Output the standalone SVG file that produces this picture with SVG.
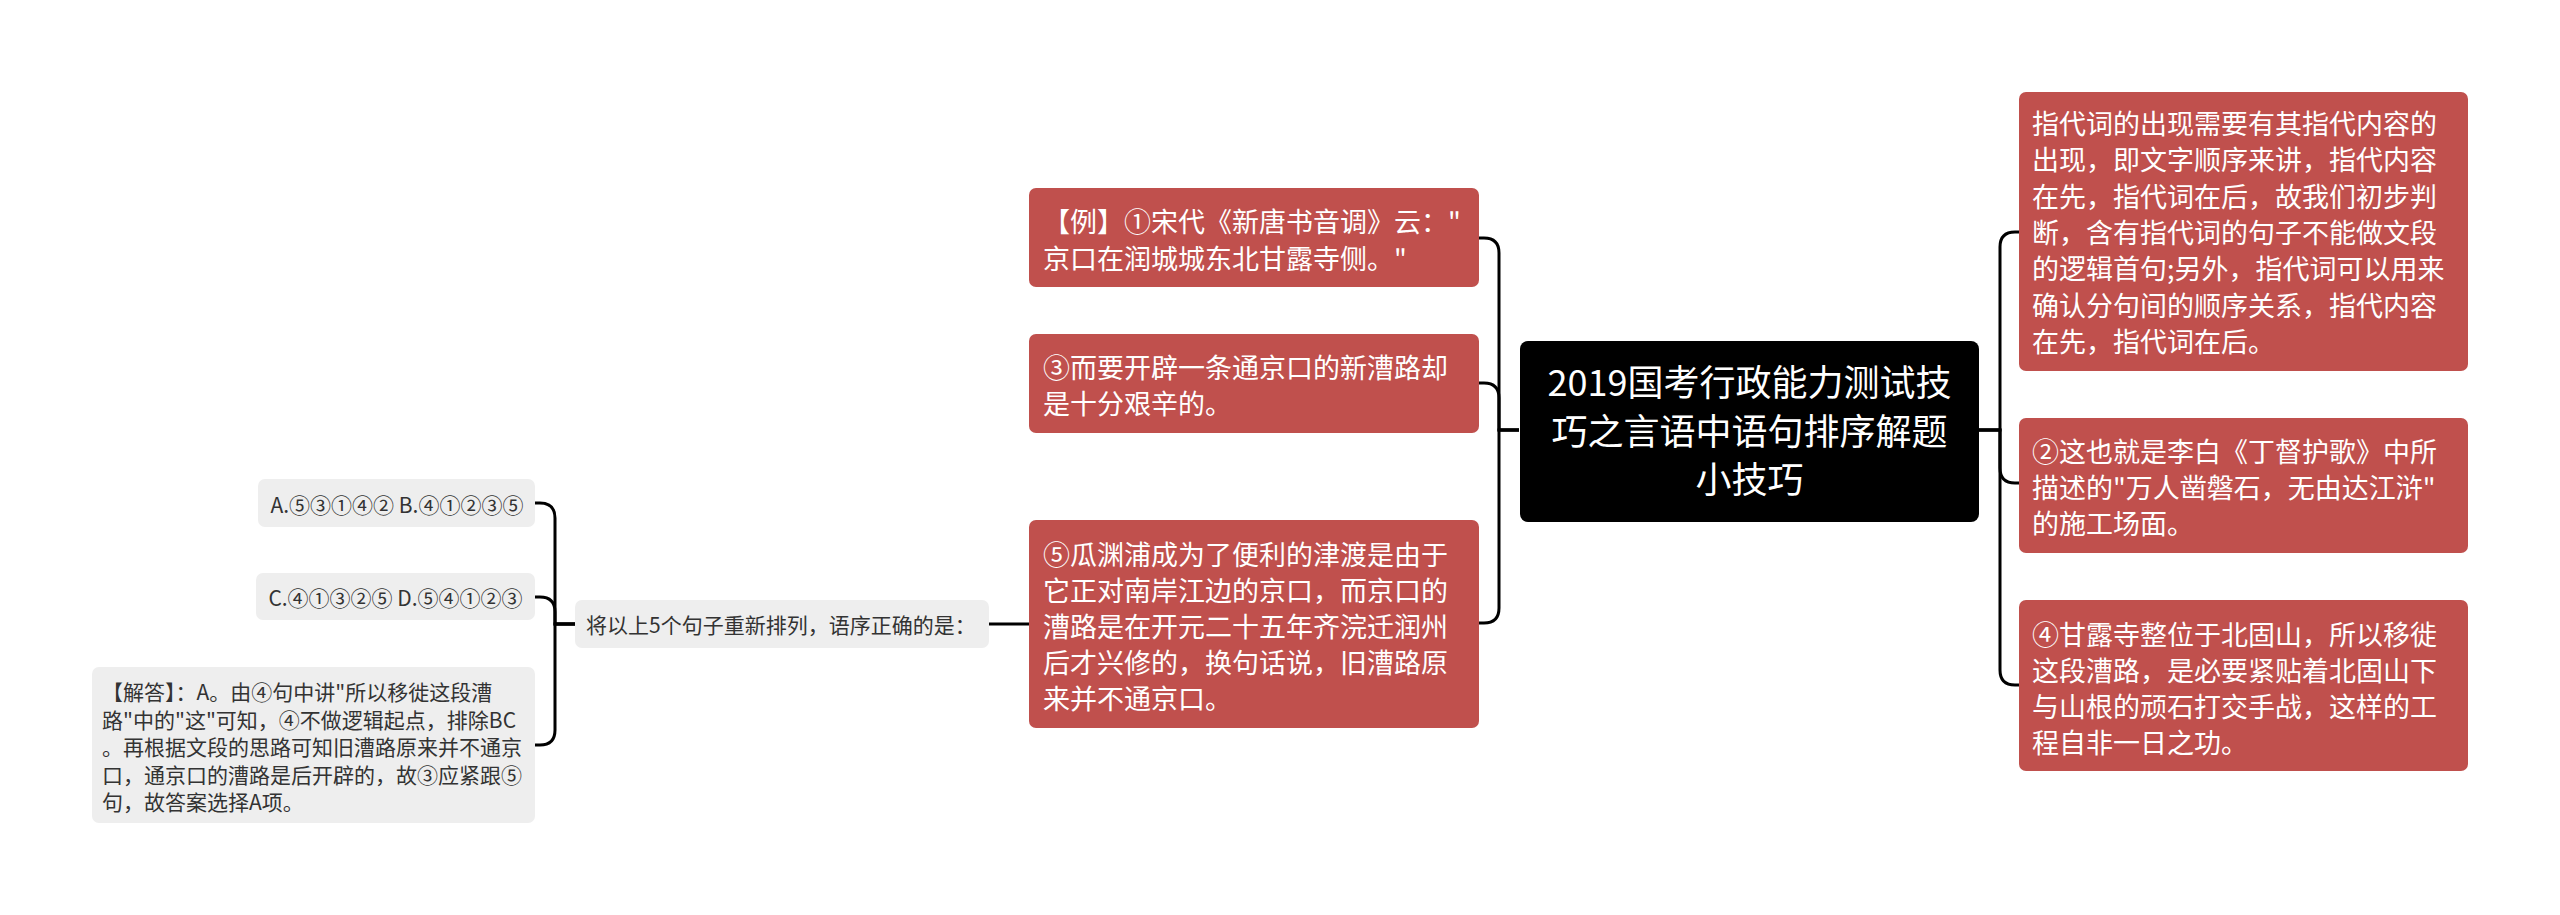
<svg xmlns="http://www.w3.org/2000/svg" width="2560" height="915" viewBox="0 0 2560 915">
<style>
text{font-family:"Noto Sans CJK SC","Noto Sans",sans-serif;}
.red{fill:#C0504D;}
.gray{fill:#EEEEEE;}
.center{fill:#000000;}
.tr{font-size:27px;fill:#FFFFFF;}
.tc{font-size:36px;fill:#FFFFFF;text-anchor:middle;}
.tg{font-size:21px;fill:#333333;}
.tgm{font-size:21px;fill:#333333;text-anchor:middle;}
.link{fill:none;stroke:#000000;stroke-width:3;}
</style>
<rect x="0" y="0" width="2560" height="915" fill="#FFFFFF"/>
<g id="connectors">
<path class="link" d="M1519,430 H1499 V253 Q1499,238 1484,238 H1479"/>
<path class="link" d="M1519,430 H1499 V398 Q1499,383 1484,383 H1479"/>
<path class="link" d="M1519,430 H1499 V608 Q1499,623 1484,623 H1479"/>
<path class="link" d="M1978,430 H2000 V247 Q2000,232 2015,232 H2019"/>
<path class="link" d="M1978,430 H2000 V468 Q2000,483 2015,483 H2019"/>
<path class="link" d="M1978,430 H2000 V670 Q2000,685 2015,685 H2019"/>
<path class="link" d="M1029,624 H989"/>
<path class="link" d="M575,624 H555 V518 Q555,503 540,503 H535"/>
<path class="link" d="M575,624 H555 V612 Q555,597 540,597 H535"/>
<path class="link" d="M575,624 H555 V730 Q555,745 540,745 H535"/>
</g>
<g id="root">
<rect class="center" x="1520" y="341" width="459" height="181" rx="8"/>
<text class="tc" x="1749.5" y="396">2019国考行政能力测试技</text>
<text class="tc" x="1749.5" y="445">巧之言语中语句排序解题</text>
<text class="tc" x="1749.5" y="493">小技巧</text>
</g>
<g id="node-example1">
<rect class="red" x="1029" y="188" width="450" height="99" rx="7"/>
<text class="tr" x="1043" y="232">【例】①宋代《新唐书音调》云："</text>
<text class="tr" x="1043" y="268.5">京口在润城城东北甘露寺侧。"</text>
</g>
<g id="node-example3">
<rect class="red" x="1029" y="334" width="450" height="99" rx="7"/>
<text class="tr" x="1043" y="378">③而要开辟一条通京口的新漕路却</text>
<text class="tr" x="1043" y="414">是十分艰辛的。</text>
</g>
<g id="node-example5">
<rect class="red" x="1029" y="520" width="450" height="208" rx="7"/>
<text class="tr" x="1043" y="565">⑤瓜渊浦成为了便利的津渡是由于</text>
<text class="tr" x="1043" y="601">它正对南岸江边的京口，而京口的</text>
<text class="tr" x="1043" y="637">漕路是在开元二十五年齐浣迁润州</text>
<text class="tr" x="1043" y="673">后才兴修的，换句话说，旧漕路原</text>
<text class="tr" x="1043" y="709">来并不通京口。</text>
</g>
<g id="node-question">
<rect class="gray" x="575" y="600" width="414" height="48" rx="7"/>
<text class="tg" x="586" y="633">将以上5个句子重新排列，语序正确的是：</text>
</g>
<g id="node-optionsAB">
<rect class="gray" x="258" y="479" width="277" height="48" rx="7"/>
<text class="tgm" x="397" y="513">A.⑤③①④② B.④①②③⑤</text>
</g>
<g id="node-optionsCD">
<rect class="gray" x="256" y="573" width="279" height="47" rx="7"/>
<text class="tgm" x="395.5" y="606">C.④①③②⑤ D.⑤④①②③</text>
</g>
<g id="node-answer">
<rect class="gray" x="92" y="667" width="443" height="156" rx="7"/>
<text class="tg" x="102" y="700">【解答】：A。由④句中讲"所以移徙这段漕</text>
<text class="tg" x="102" y="727.5">路"中的"这"可知，④不做逻辑起点，排除BC</text>
<text class="tg" x="102" y="755">。再根据文段的思路可知旧漕路原来并不通京</text>
<text class="tg" x="102" y="782.5">口，通京口的漕路是后开辟的，故③应紧跟⑤</text>
<text class="tg" x="102" y="810">句，故答案选择A项。</text>
</g>
<g id="node-pronoun">
<rect class="red" x="2019" y="92" width="449" height="279" rx="7"/>
<text class="tr" x="2032" y="134">指代词的出现需要有其指代内容的</text>
<text class="tr" x="2032" y="170.3">出现，即文字顺序来讲，指代内容</text>
<text class="tr" x="2032" y="206.6">在先，指代词在后，故我们初步判</text>
<text class="tr" x="2032" y="242.9">断，含有指代词的句子不能做文段</text>
<text class="tr" x="2032" y="279.2">的逻辑首句;另外，指代词可以用来</text>
<text class="tr" x="2032" y="315.5">确认分句间的顺序关系，指代内容</text>
<text class="tr" x="2032" y="351.8">在先，指代词在后。</text>
</g>
<g id="node-example2">
<rect class="red" x="2019" y="418" width="449" height="135" rx="7"/>
<text class="tr" x="2032" y="462">②这也就是李白《丁督护歌》中所</text>
<text class="tr" x="2032" y="498">描述的"万人凿磐石，无由达江浒"</text>
<text class="tr" x="2032" y="534">的施工场面。</text>
</g>
<g id="node-example4">
<rect class="red" x="2019" y="600" width="449" height="171" rx="7"/>
<text class="tr" x="2032" y="645">④甘露寺整位于北固山，所以移徙</text>
<text class="tr" x="2032" y="681">这段漕路，是必要紧贴着北固山下</text>
<text class="tr" x="2032" y="717">与山根的顽石打交手战，这样的工</text>
<text class="tr" x="2032" y="753">程自非一日之功。</text>
</g>
</svg>
